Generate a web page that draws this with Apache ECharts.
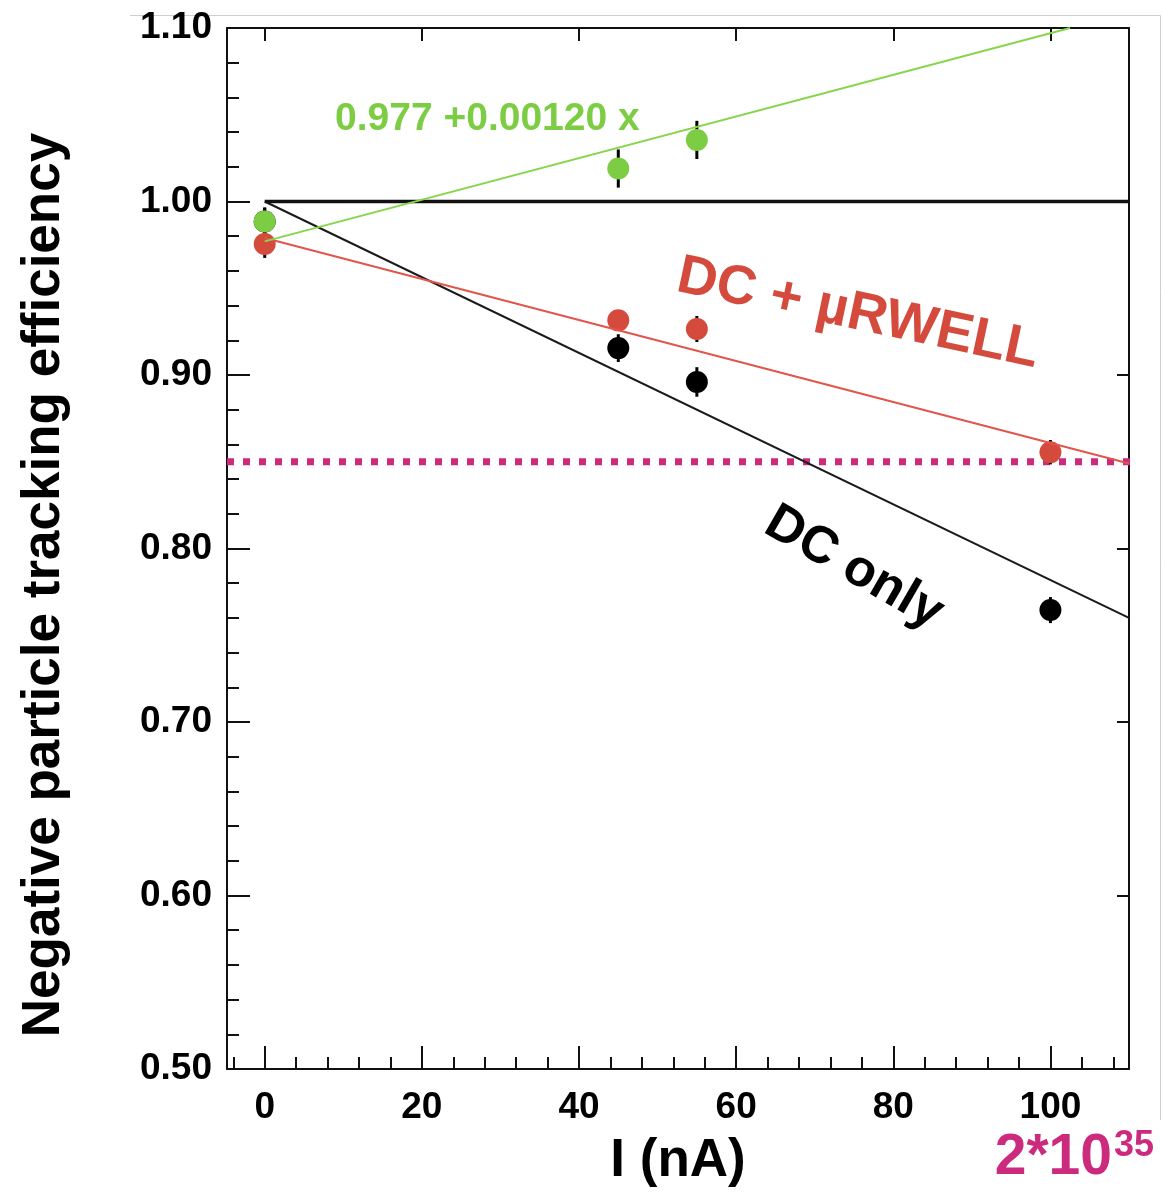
<!DOCTYPE html>
<html>
<head>
<meta charset="utf-8">
<script src="https://cdn.jsdelivr.net/npm/echarts@6/dist/echarts.min.js"></script>
<style>html,body{margin:0;padding:0;background:#fff}#c{width:1162px;height:1195px}</style>
</head>
<body>
<div id="c"></div>
<script>
// ---- data ----
const currents = [0, 45, 55, 100];
const dcOnly = [0.9885, 0.9155, 0.896, 0.7645];
const dcOnlyErr = [0.008, 0.008, 0.0085, 0.0075];
const dcUrwell = [0.9755, 0.9315, 0.9265, 0.8555];
const dcUrwellErr = [0.008, 0.005, 0.0075, 0.007];
const greenX = [0, 45, 55];
const greenVals = [0.9885, 1.019, 1.0355];
const greenErr = [0.008, 0.011, 0.011];
const fitGreen = [[0, 0.977], [102.5, 1.100]];
const fitRed = [[0, 0.979], [110, 0.849]];
const fitBlack = [[0, 1.000], [110, 0.760]];
const unityLine = [[0, 1.0], [110, 1.0]];
const threshold = [[-4.8, 0.85], [111.2, 0.85]];
const xMajorTicks = [0, 20, 40, 60, 80, 100];
const xMinorTicks = [-4, 4, 8, 12, 16, 24, 28, 32, 36, 44, 48, 52, 56, 64, 68, 72, 76, 84, 88, 92, 96, 104, 108];

const FONT = "'Liberation Sans', Arial, Helvetica, sans-serif";
const BLACK = '#111';
const GREEN = '#7ccd43';
const RED = '#d44b3e';
const MAGENTA = '#cc2a7d';

function pts(xs, ys) { return xs.map((x, i) => [x, ys[i]]); }
function errData(xs, ys, es) { return xs.map((x, i) => [x, ys[i], es[i]]); }

function errSeries(data) {
  return {
    type: 'custom', z: 2, silent: true,
    renderItem: function (params, api) {
      const x = api.value(0), y = api.value(1), e = api.value(2);
      const p1 = api.coord([x, y - e]);
      const p2 = api.coord([x, y + e]);
      return { type: 'line', shape: { x1: p1[0], y1: p1[1], x2: p2[0], y2: p2[1] },
               style: { stroke: '#000', lineWidth: 3 } };
    },
    encode: { x: 0, y: 1 },
    data: data
  };
}
function markers(data, color) {
  return { type: 'scatter', z: 3, symbol: 'circle', symbolSize: 22, itemStyle: { color: color, opacity: 1 }, data: data, silent: true };
}
function lineS(data, color, width, extra) {
  return Object.assign({ type: 'line', z: 4, showSymbol: false, symbol: 'none', silent: true,
    lineStyle: { color: color, width: width }, data: data, animation: false }, extra || {});
}

const chart = echarts.init(document.getElementById('c'), null, { renderer: 'canvas' });
const xBase = { type: 'value', min: -4.8, max: 110, gridIndex: 0, splitLine: { show: false } };
const yBase = { type: 'value', min: 0.5, max: 1.1, interval: 0.1, splitLine: { show: false } };

chart.setOption({
  animation: false,
  backgroundColor: '#fff',
  grid: { left: 227, top: 28, right: 33, bottom: 126, containLabel: false },
  xAxis: [
    Object.assign({}, xBase, {
      position: 'bottom',
      axisLine: { show: true, onZero: false, lineStyle: { color: BLACK, width: 2 } },
      axisTick: { show: true, inside: true, length: 23, customValues: xMajorTicks, lineStyle: { color: BLACK, width: 2 } },
      axisLabel: { show: true, customValues: xMajorTicks, margin: 20, color: '#000', fontFamily: FONT, fontWeight: 'bold', fontSize: 37 }
    }),
    Object.assign({}, xBase, {
      position: 'bottom',
      axisLine: { show: false, onZero: false },
      axisTick: { show: true, inside: true, length: 12, customValues: xMinorTicks, lineStyle: { color: BLACK, width: 2 } },
      axisLabel: { show: false }
    }),
    Object.assign({}, xBase, {
      position: 'top',
      axisLine: { show: true, onZero: false, lineStyle: { color: BLACK, width: 2 } },
      axisTick: { show: true, inside: true, length: 13, customValues: xMajorTicks, lineStyle: { color: BLACK, width: 2 } },
      axisLabel: { show: false }
    })
  ],
  yAxis: [
    Object.assign({}, yBase, {
      position: 'left',
      axisLine: { show: true, onZero: false, lineStyle: { color: BLACK, width: 2 } },
      axisTick: { show: true, inside: true, length: 23, lineStyle: { color: BLACK, width: 2 } },
      minorTick: { show: true, splitNumber: 5, length: 12, lineStyle: { color: BLACK, width: 2 } },
      axisLabel: { show: true, margin: 15, color: '#000', fontFamily: FONT, fontWeight: 'bold', fontSize: 37,
        formatter: v => v.toFixed(2) }
    }),
    Object.assign({}, yBase, {
      position: 'right',
      axisLine: { show: true, onZero: false, lineStyle: { color: BLACK, width: 2 } },
      axisTick: { show: true, inside: true, length: 12, lineStyle: { color: BLACK, width: 2 } },
      axisLabel: { show: false }
    })
  ],
  series: [
    lineS(threshold, MAGENTA, 7, { z: 1, clip: false, lineStyle: { color: MAGENTA, width: 7, type: [7, 9], cap: 'butt' } }),
    errSeries(errData(currents, dcOnly, dcOnlyErr)),
    errSeries(errData(currents, dcUrwell, dcUrwellErr)),
    errSeries(errData(greenX, greenVals, greenErr)),
    markers(pts(currents, dcOnly), '#000'),
    markers(pts(currents, dcUrwell), RED),
    markers(pts(greenX, greenVals), GREEN),
    lineS(unityLine, '#111', 3.5),
    lineS(fitBlack, '#1a1a1a', 2),
    lineS(fitRed, '#e0564a', 2),
    lineS(fitGreen, '#86d64c', 2)
  ],
  graphic: [
    { type: 'polyline', silent: true, shape: { points: [[130, 15.5], [1160.5, 15.5], [1160.5, 1120]] },
      style: { stroke: '#cfcfcf', lineWidth: 1, fill: null } },
    { type: 'text', x: 44, y: 585, rotation: Math.PI / 2, silent: true,
      style: { text: 'Negative particle tracking efficiency', font: 'bold 53px ' + FONT, fill: '#000', align: 'center', verticalAlign: 'middle' } },
    { type: 'text', x: 678, y: 1161, silent: true,
      style: { text: 'I (nA)', font: 'bold 53px ' + FONT, fill: '#000', align: 'center', verticalAlign: 'middle' } },
    { type: 'text', x: 335, y: 119, silent: true,
      style: { text: '0.977 +0.00120 x', font: 'bold 39px ' + FONT, fill: GREEN, align: 'left', verticalAlign: 'middle' } },
    { type: 'text', x: 858, y: 314, rotation: -12 * Math.PI / 180, silent: true,
      style: { text: 'DC + \u00b5RWELL', font: 'bold 55px ' + FONT, fill: RED, align: 'center', verticalAlign: 'middle' } },
    { type: 'text', x: 854, y: 568, rotation: -30 * Math.PI / 180, silent: true,
      style: { text: 'DC only', font: 'bold 52px ' + FONT, fill: '#000', align: 'center', verticalAlign: 'middle' } },
    { type: 'text', x: 1112, y: 1158, silent: true,
      style: { text: '2*10', font: 'bold 57px ' + FONT, fill: MAGENTA, align: 'right', verticalAlign: 'middle' } },
    { type: 'text', x: 1114, y: 1146, silent: true,
      style: { text: '35', font: 'bold 36px ' + FONT, fill: MAGENTA, align: 'left', verticalAlign: 'middle' } }
  ]
});
</script>
</body>
</html>
